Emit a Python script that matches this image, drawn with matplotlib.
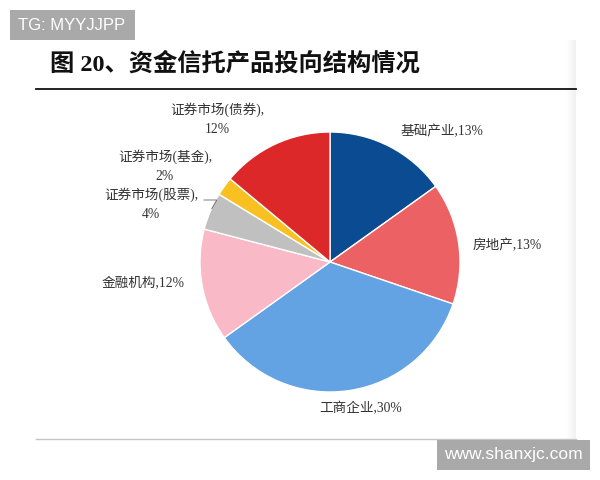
import numpy as np
import matplotlib
matplotlib.use("Agg")
import matplotlib.pyplot as plt
from matplotlib.patches import Rectangle

plt.rcParams['font.family'] = ['Liberation Serif', 'Noto Sans CJK SC']

# Fund-trust investment structure
categories = ["基础产业", "房地产", "工商企业", "金融机构",
              "证券市场(股票)", "证券市场(基金)", "证券市场(债券)"]
shares = [13, 13, 30, 12, 4, 2, 12]
colors = ["#0b4b91", "#ec6163", "#63a2e3", "#f9b9c6",
          "#c0c0c0", "#f8c020", "#dc2828"]

W, H = 600, 480
fig = plt.figure(figsize=(W / 100, H / 100), dpi=100)
fig.patch.set_facecolor("white")


def fx(x):
    return x / W


def fy(y):
    return 1 - y / H


# faint shading along the right edge of the panel
shade = fig.add_axes([fx(566), fy(440), (576 - 566) / W, (440 - 40) / H], zorder=0)
grad = np.linspace(1.0, 0.945, 32)[None, :]
shade.imshow(np.repeat(grad, 2, axis=0), cmap="gray", vmin=0, vmax=1,
             aspect="auto", extent=[0, 1, 0, 1], interpolation="bilinear")
shade.axis("off")

# title and rules
fig.text(fx(50), fy(64), "图 20、资金信托产品投向结构情况", fontsize=17.5,
         fontweight="bold", color="#111111", ha="left", va="center")
fig.add_artist(plt.Line2D([fx(36), fx(576)], [fy(89), fy(89)],
                          transform=fig.transFigure, color="#111111", lw=1.3))
fig.add_artist(plt.Line2D([fx(36), fx(576)], [fy(439), fy(439)],
                          transform=fig.transFigure, color="#c4c4c4", lw=1.0))

# pie
cx, cy, r = 330, 262, 130
ax = fig.add_axes([fx(cx - r), fy(cy + r), 2 * r / W, 2 * r / H])
wedges, _ = ax.pie(shares, colors=colors, startangle=90, counterclock=False,
                   radius=1.0, wedgeprops=dict(edgecolor="white", linewidth=1.0))
ax.set_xlim(-1, 1)
ax.set_ylim(-1, 1)
ax.set_aspect("equal")
ax.axis("off")

label_color = "#333333"
fs = 9.8


def lab(i, sep=","):
    return f"{categories[i]}{sep}{shares[i]}%"


fig.text(fx(442), fy(131), lab(0), fontsize=fs, color=label_color, ha="center", va="center")
fig.text(fx(507), fy(245), lab(1), fontsize=fs, color=label_color, ha="center", va="center")
fig.text(fx(361), fy(409), lab(2), fontsize=fs, color=label_color, ha="center", va="center")
fig.text(fx(143), fy(284), lab(3), fontsize=fs, color=label_color, ha="center", va="center")
fig.text(fx(217), fy(119), lab(6, sep=",\n"), fontsize=fs, color=label_color,
         ha="center", va="center", linespacing=1.55, multialignment="center")
fig.text(fx(165), fy(166), lab(5, sep=",\n"), fontsize=fs, color=label_color,
         ha="center", va="center", linespacing=1.55, multialignment="center")
fig.text(fx(151), fy(204), lab(4, sep=",\n"), fontsize=fs, color=label_color,
         ha="center", va="center", linespacing=1.55, multialignment="center")

# leader line for the stock-market wedge
w = wedges[4]
mid = np.deg2rad((w.theta1 + w.theta2) / 2)
ex, ey = np.cos(mid), np.sin(mid)
ax.annotate("", xy=(ex, ey), xycoords="data",
            xytext=(fx(201), fy(200)), textcoords="figure fraction",
            arrowprops=dict(arrowstyle="-", color="#666666", lw=0.6,
                            connectionstyle="angle,angleA=0,angleB=60,rad=0"),
            annotation_clip=False)

# watermark boxes
fig.patches.append(Rectangle((fx(10), fy(40)), fx(135) - fx(10), fy(10) - fy(40),
                             transform=fig.transFigure, facecolor="#a9a9a9",
                             edgecolor="none", zorder=5))
fig.text(fx(72), fy(25), "TG: MYYJJPP", fontsize=12, color="white",
         family="Liberation Sans", ha="center", va="center", zorder=6)
fig.patches.append(Rectangle((fx(437), fy(470)), fx(590) - fx(437), fy(440) - fy(470),
                             transform=fig.transFigure, facecolor="#a9a9a9",
                             edgecolor="none", zorder=5))
fig.text(fx(513), fy(455), "www.shanxjc.com", fontsize=12.5, color="white",
         family="Liberation Sans", ha="center", va="center", zorder=6)

fig.savefig("out.png", dpi=100, facecolor="white")
